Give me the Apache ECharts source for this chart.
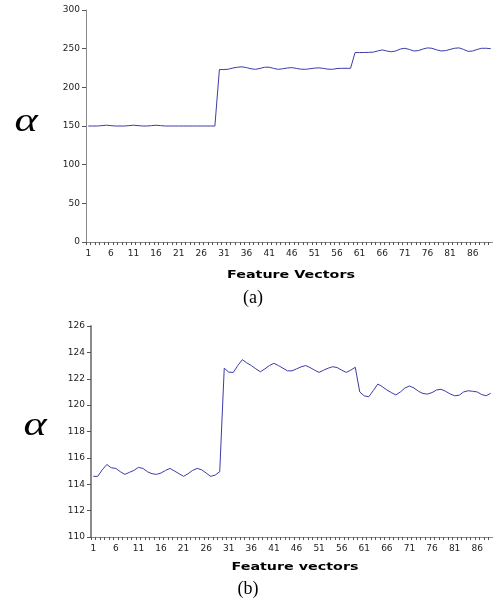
<!DOCTYPE html>
<html>
<head>
<meta charset="utf-8">
<script src="https://cdn.jsdelivr.net/npm/echarts@6/dist/echarts.min.js"></script>
<style>
html,body{margin:0;padding:0;background:#fff;}
#c{width:493px;height:608px;}
</style>
</head>
<body>
<div id="c"></div>
<script>
// Chart (a)
var catsA = [];
for (var i = 1; i <= 90; i++) catsA.push(String(i));
var valuesA = [
  150, 150, 150, 150.5, 151, 150.5, 150, 150, 150, 150.5,
  151, 150.5, 150, 150, 150.5, 151, 150.5, 150, 150, 150,
  150, 150, 150, 150, 150, 150, 150, 150, 150,
  223, 223, 223.5, 225, 226, 226.5, 225.5, 224, 223.3, 224.5,
  226, 226, 224.5, 223.3, 224, 225, 225.5, 224.5, 223.5, 223.3,
  224, 224.8, 225.2, 224.5, 223.5, 223.3, 224.3, 224.6, 224.6, 224.6,
  245, 245, 245, 245.2, 245.5, 247, 248.4, 247, 246, 247,
  249.5, 250.5, 249, 247, 247.5, 249.5, 251, 250.5, 248.5, 247,
  247.5, 249, 250.5, 251, 249, 246.5, 247, 249, 250.5, 250.5,
  250
];
// Chart (b)
var catsB = [];
for (var j = 1; j <= 89; j++) catsB.push(String(j));
var valuesB = [
  114.6, 114.6, 115.1, 115.5, 115.25, 115.2, 114.95, 114.75, 114.9, 115.05,
  115.28, 115.2, 114.95, 114.8, 114.75, 114.85, 115.05, 115.2, 115.0, 114.8,
  114.6, 114.8, 115.05, 115.2, 115.1, 114.85, 114.6, 114.7, 114.95,
  122.8, 122.5, 122.48, 123.0, 123.45, 123.2, 123.0, 122.75, 122.53, 122.75,
  123.0, 123.17, 123.0, 122.8, 122.6, 122.6, 122.75, 122.9, 123.0, 122.85,
  122.65, 122.48, 122.65, 122.8, 122.91, 122.85, 122.65, 122.48, 122.65, 122.87,
  121.0, 120.7, 120.64, 121.1, 121.6, 121.4, 121.15, 120.95, 120.77, 121.0,
  121.3, 121.45, 121.3, 121.05, 120.88, 120.84, 120.95, 121.15, 121.2, 121.05,
  120.85, 120.71, 120.75, 121.0, 121.09, 121.05, 121.0, 120.8, 120.71, 120.9
];
var xNameA = 'Feature Vectors';
var xNameB = 'Feature vectors';
var yName = '\u03b1';
var capA = '(a)';
var capB = '(b)';

var lab = {color:'#222', fontFamily:'DejaVu Sans', fontSize:9};
function xAxis(idx, cats){
  return {
    type:'category', gridIndex:idx, data:cats, boundaryGap:true,
    axisLine:{lineStyle:{color:'#8a8a8a', width:1}},
    axisTick:{show:true, interval:0, length:3, lineStyle:{color:'#555'}},
    axisLabel:Object.assign({interval:4, margin:7}, lab)
  };
}
function yAxis(idx, min, max, step, w){
  return {
    type:'value', gridIndex:idx, min:min, max:max, interval:step,
    splitLine:{show:false},
    axisLine:{show:true, lineStyle:{color:'#8a8a8a', width:w}},
    axisTick:{show:true, length:4, lineStyle:{color:'#555'}},
    axisLabel:Object.assign({margin:6}, lab)
  };
}
function txt(t, x, y, font, sx){
  return {type:'text', x:x, y:y, scaleX:sx, silent:true,
    style:{text:t, font:font, fill:'#000', textAlign:'center', textVerticalAlign:'middle'}};
}
var chart = echarts.init(document.getElementById('c'));
chart.setOption({
  animation:false,
  backgroundColor:'#fff',
  grid:[
    {left:86, top:10, right:-1, bottom:366},
    {left:91, top:326, right:-1, bottom:71}
  ],
  xAxis:[xAxis(0, catsA), xAxis(1, catsB)],
  yAxis:[yAxis(0, 0, 300, 50, 1), yAxis(1, 110, 126, 2, 2)],
  series:[
    {type:'line', xAxisIndex:0, yAxisIndex:0, data:valuesA, symbol:'none',
     lineStyle:{color:'#3c3caa', width:1}},
    {type:'line', xAxisIndex:1, yAxisIndex:1, data:valuesB, symbol:'none',
     lineStyle:{color:'#3c3caa', width:1}}
  ],
  graphic:[
    txt(yName, 26, 122, 'italic 34px "Liberation Serif"', 1.3),
    txt(yName, 35, 426, 'italic 34px "Liberation Serif"', 1.3),
    txt(xNameA, 291, 275, 'bold 11px "DejaVu Sans"', 1.3),
    txt(xNameB, 295, 567, 'bold 11px "DejaVu Sans"', 1.3),
    txt(capA, 253, 298, '18px "Liberation Serif"', 1),
    txt(capB, 248, 589, '18px "Liberation Serif"', 1)
  ]
});
</script>
</body>
</html>
